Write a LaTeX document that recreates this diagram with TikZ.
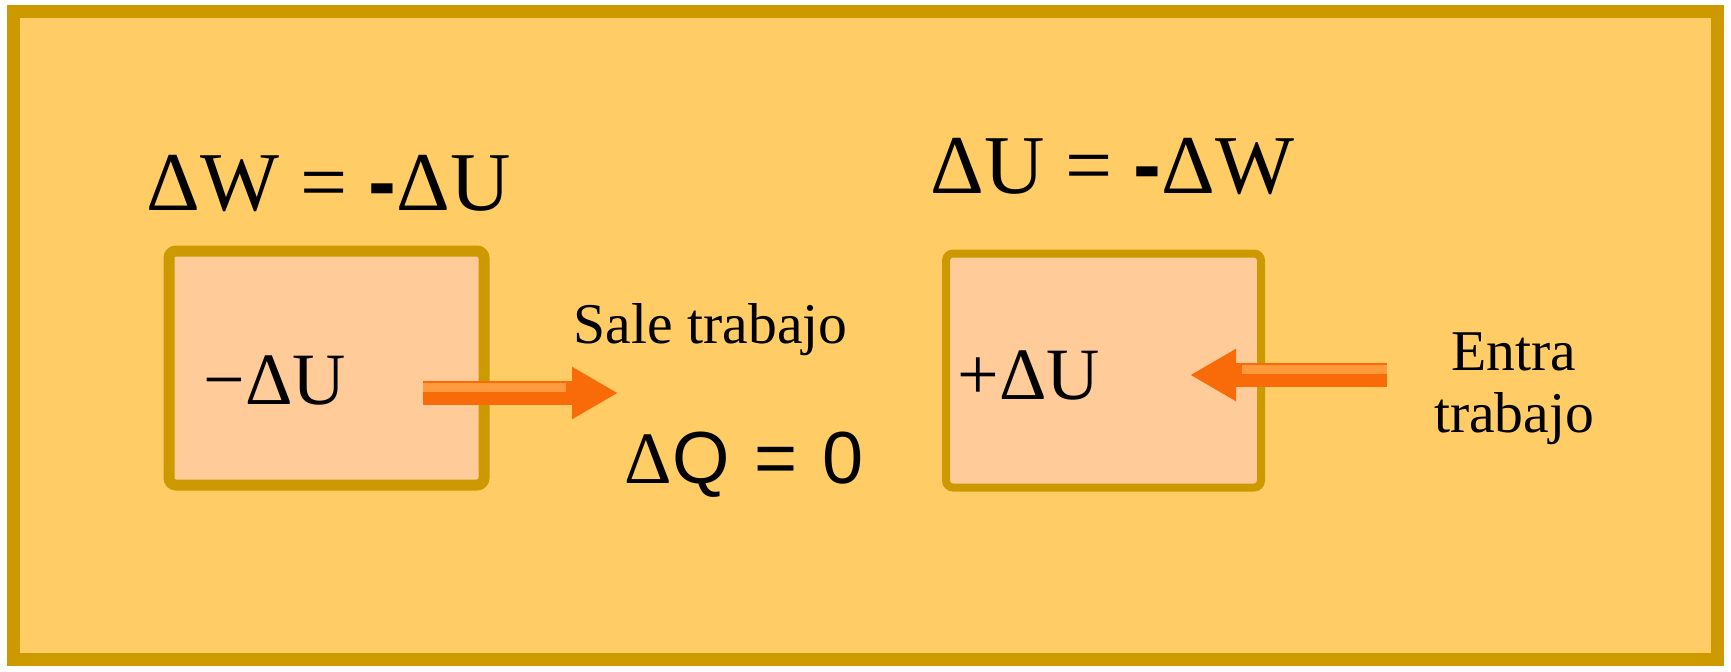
\documentclass[tikz,border=0pt]{standalone}
\usepackage{fontspec}
\setmainfont{Liberation Serif}
\newfontfamily\sansfont{Liberation Sans}
\usetikzlibrary{arrows.meta, positioning}
\definecolor{framebg}{HTML}{FFCC66}
\definecolor{frameline}{HTML}{CC9900}
\definecolor{boxfill}{HTML}{FFCC99}
\definecolor{arrdark}{HTML}{F96A08}
\definecolor{arrlight}{HTML}{FF9B3D}

\begin{document}
\begin{tikzpicture}[
    x=0.1mm, y=-0.1mm,
    sysbox/.style={draw=frameline, fill=boxfill, rounded corners=2pt, line width=#1, minimum width=31.5mm, minimum height=23.4mm, inner sep=0pt},
    eqn/.style={font=\fontsize{23.8}{29}\selectfont, inner sep=0pt, anchor=base west},
    lbl/.style={font=\fontsize{21}{25}\selectfont, inner sep=0pt, anchor=base west},
    note/.style={font=\fontsize{16.4}{17.6}\selectfont, inner sep=0pt},
    work/.style={-{Triangle[length=4.6mm, width=4.9mm]}, line width=2.4mm, arrdark},
    shine/.style={line width=0.9mm, arrlight},
    >=Stealth
]
\useasboundingbox (0,0) rectangle (1731,671);

% Frame
\node[draw=frameline, fill=framebg, line width=1.3mm, minimum width=170.4mm, minimum height=64.8mm, inner sep=0pt] (frame) at (865.5,335.5) {};

% Left system
\node[sysbox=1.1mm] (left) at (326.5,368) {};
\node[eqn] (eqleft) at (146,210) {ΔW = {\sansfont\bfseries -}ΔU};
\node[lbl] (uleft) at (203,404) {−ΔU};

% Right system
\node[sysbox=0.8mm] (right) at (1103.5,370.5) {};
\node[eqn] (eqright) at (930,193) {ΔU = {\sansfont\bfseries -}ΔW};
\node[lbl] (uright) at (957,399) {+ΔU};

% Sale trabajo
\coordinate (outA) at (423,393);
\coordinate (outB) at (618,393);
\draw[work] (outA) -- (outB);
\draw[shine] ([yshift=0.55mm]outA) -- ([xshift=-5.2mm, yshift=0.55mm]outB);
\node[note, anchor=base west] (sale) at (573,343) {Sale trabajo};

% Entra trabajo
\coordinate (inA) at (1387,375);
\coordinate (inB) at (1190,375);
\draw[work] (inA) -- (inB);
\draw[shine] ([yshift=0.55mm]inA) -- ([xshift=5.2mm, yshift=0.55mm]inB);
\node[note, align=center, anchor=base] (entra) at (1514,432) {Entra\\trabajo};

% Q
\node[inner sep=0pt, anchor=base west, font=\fontsize{21}{25}\selectfont] (dq) at (624,483) {Δ{\sansfont Q\hspace{0.45mm} = \hspace{0.45mm}0}};

\end{tikzpicture}
\end{document}
